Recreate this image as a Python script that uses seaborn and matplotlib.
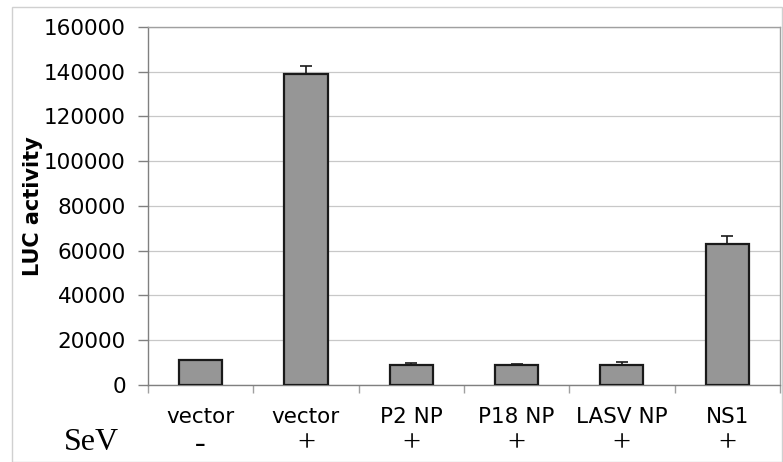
import numpy as np
import pandas as pd
import matplotlib
matplotlib.use('Agg')
import matplotlib.pyplot as plt
import seaborn as sns
from matplotlib.ticker import FixedLocator, MultipleLocator
from matplotlib.patches import Rectangle

# --- Data ---
constructs = ["vector", "vector", "P2 NP", "P18 NP", "LASV NP", "NS1"]
sev = ["-", "+", "+", "+", "+", "+"]
luc = [11000, 139000, 9000, 9000, 9000, 63000]
luc_err = [300, 3500, 800, 300, 1300, 3700]

df = pd.DataFrame({"pos": range(len(constructs)), "LUC": luc})

# --- Style ---
sns.set_style("white")
plt.rcParams["font.family"] = ["DejaVu Sans"]
plt.rcParams.update({"text.color": "black", "xtick.color": "black",
                     "ytick.color": "black", "axes.labelcolor": "black"})

fig = plt.figure(figsize=(7.83, 4.62), dpi=100)
ax = fig.add_axes([0.189, 0.1667, 0.807, 0.775])

# outer chart frame like the Excel export
fig.patches.append(Rectangle((12 / 783, 0), 1 - 12 / 783 - 0.001, 1 - 7 / 462,
                             transform=fig.transFigure, fill=False,
                             edgecolor="#d0d0d0", linewidth=1.0, zorder=0))

sns.barplot(data=df, x="pos", y="LUC", order=range(len(constructs)),
            color="#969696", saturation=1, width=0.41,
            edgecolor="#1a1a1a", linewidth=1.6, ax=ax, zorder=3)

# upward-only error bars
ax.errorbar(range(len(constructs)), luc,
            yerr=[np.zeros(len(luc_err)), luc_err],
            fmt="none", ecolor="#1a1a1a", elinewidth=1.2, capsize=4.5,
            capthick=1.2, zorder=4)

ax.set_ylim(0, 160000)
ax.set_xlim(-0.5, len(constructs) - 0.5)
ax.yaxis.set_major_locator(MultipleLocator(20000))
ax.grid(axis="y", color="#c8c8c8", linewidth=0.9, zorder=0)
ax.set_axisbelow(True)

for side in ["top", "right"]:
    ax.spines[side].set_color("#a0a0a0")
    ax.spines[side].set_linewidth(1.0)
for side in ["left", "bottom"]:
    ax.spines[side].set_color("#808080")
    ax.spines[side].set_linewidth(1.0)

ax.tick_params(axis="y", which="major", direction="out", length=7, width=1,
               color="#808080", pad=9, labelsize=15.5, left=True)
ax.tick_params(axis="x", which="major", length=0, pad=16, labelsize=15.5)
ax.xaxis.set_minor_locator(FixedLocator(np.arange(-0.5, len(constructs), 1.0)))
ax.tick_params(axis="x", which="minor", direction="out", length=6, width=1,
               color="#a0a0a0", bottom=True)

ax.set_xticks(range(len(constructs)))
ax.set_xticklabels(constructs)
ax.set_xlabel("")
ax.set_ylabel("LUC activity", fontsize=15, fontweight="bold")
ax.yaxis.set_label_coords(-0.166, 0.5)

# second label row: SeV -/+
trans = ax.get_xaxis_transform()
for i, s in enumerate(sev):
    ax.text(i, -0.165, s, transform=trans, ha="center", va="center",
            fontsize=23, family=["Liberation Serif"])
ax.text(-0.089, -0.16, "SeV", transform=ax.transAxes, ha="center", va="center",
        fontsize=23, family=["Liberation Serif"])

fig.savefig("out.png", dpi=100)
